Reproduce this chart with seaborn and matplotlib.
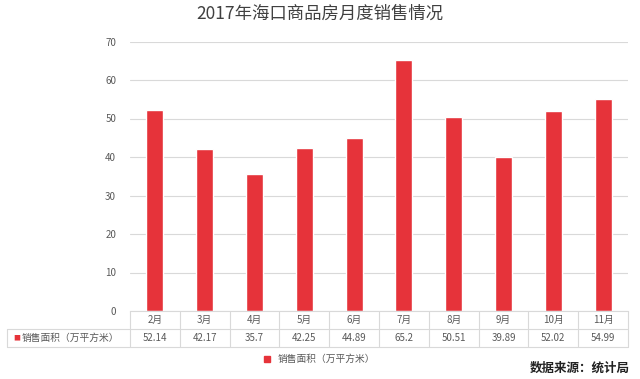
import matplotlib
matplotlib.use("Agg")
import matplotlib.pyplot as plt
import matplotlib.transforms as mtransforms
from matplotlib.lines import Line2D
import seaborn as sns

months = ["2月", "3月", "4月", "5月", "6月", "7月", "8月", "9月", "10月", "11月"]
area = [52.14, 42.17, 35.7, 42.25, 44.89, 65.2, 50.51, 39.89, 52.02, 54.99]
area_labels = ["52.14", "42.17", "35.7", "42.25", "44.89", "65.2", "50.51", "39.89", "52.02", "54.99"]
series_name = "销售面积（万平方米）"
title = "2017年海口商品房月度销售情况"
source = "数据来源：统计局"

sns.set_style("white")
plt.rcParams["font.family"] = ["Noto Sans CJK SC", "DejaVu Sans"]

red = "#E6333A"
grid = "#D9D9D9"
txt = "#595959"

fig = plt.figure(figsize=(6.4, 3.79), dpi=100)
ax = fig.add_axes([130 / 640, 1 - 311 / 379, 498 / 640, 269.5 / 379])

sns.barplot(x=months, y=area, color=red, width=0.34, saturation=1, ax=ax)

ax.set_ylim(0, 70)
ax.set_yticks(range(0, 71, 10))
ax.yaxis.grid(True, color=grid, linewidth=0.8)
ax.set_axisbelow(True)
for s in ["top", "right", "left"]:
    ax.spines[s].set_visible(False)
ax.spines["bottom"].set_color(grid)
ax.tick_params(axis="y", length=0, pad=10, labelsize=7, labelcolor=txt)
ax.set_xticks([])
ax.set_xlabel("")
ax.set_ylabel("")

# data table under the bars
blend = mtransforms.blended_transform_factory(ax.transData, ax.transAxes)
rh = 0.067
n = len(months)
for i, (m, v) in enumerate(zip(months, area_labels)):
    ax.text(i, -rh / 2, m, transform=blend, ha="center", va="center",
            fontsize=7, color=txt, clip_on=False)
    ax.text(i, -rh * 1.5, v, transform=blend, ha="center", va="center",
            fontsize=7, color=txt, clip_on=False)
for k in range(n + 1):
    ax.add_line(Line2D([k - 0.5, k - 0.5], [0, -2 * rh], transform=blend,
                       color=grid, lw=0.8, clip_on=False))
lx = -123 / 498
ax.add_line(Line2D([lx, 1], [-rh, -rh], transform=ax.transAxes,
                   color=grid, lw=0.8, clip_on=False))
ax.add_line(Line2D([lx, 1], [-2 * rh, -2 * rh], transform=ax.transAxes,
                   color=grid, lw=0.8, clip_on=False))
ax.add_line(Line2D([lx, lx], [-rh, -2 * rh], transform=ax.transAxes,
                   color=grid, lw=0.8, clip_on=False))
ax.text(lx + 0.012, -rh * 1.5, "■", transform=ax.transAxes, ha="left",
        va="center", fontsize=5, color=red, clip_on=False)
ax.text(lx + 0.03, -rh * 1.5, series_name, transform=ax.transAxes, ha="left",
        va="center", fontsize=7, color=txt, clip_on=False)

fig.text(0.5, 1 - 14 / 379, title, ha="center", va="center", fontsize=12.5, color="#404040")

handle = Line2D([], [], marker="s", linestyle="", color=red, markersize=4.5)
fig.legend([handle], [series_name], loc="center", bbox_to_anchor=(316 / 640, 1 - 359 / 379),
           frameon=False, fontsize=7, handletextpad=0.1, labelcolor=txt)

fig.text(630 / 640, 1 - 368 / 379, source, ha="right", va="center", fontsize=9,
         color="#222222", fontweight="bold")

fig.savefig("out.png", dpi=100)
